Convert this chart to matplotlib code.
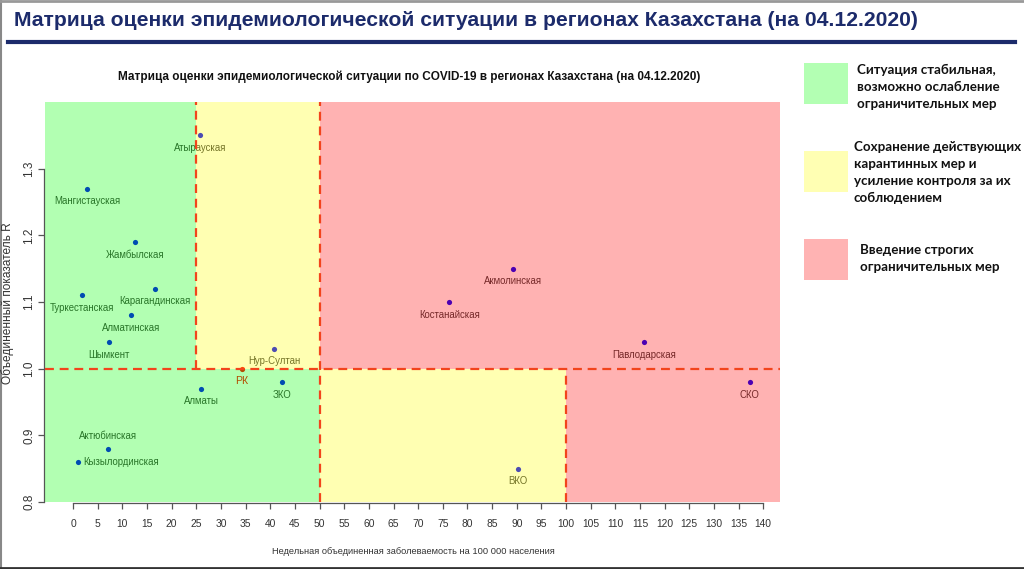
import matplotlib
matplotlib.use("Agg")
import matplotlib.pyplot as plt
from matplotlib.patches import Rectangle
from matplotlib.lines import Line2D

FONT = "Liberation Sans"

# ---- data ----
regions = ["Атырауская", "Мангистауская", "Жамбылская", "Карагандинская", "Туркестанская",
           "Алматинская", "Шымкент", "Нур-Султан", "Алматы", "ЗКО", "Актюбинская",
           "Кызылординская", "Акмолинская", "Костанайская", "Павлодарская", "СКО", "ВКО"]
incidence = [25.8, 2.8, 12.6, 16.6, 1.8, 11.8, 7.3, 40.8, 26.0, 42.4, 7.1,
             1.0, 89.2, 76.3, 115.8, 137.3, 90.3]
r_value = [1.35, 1.27, 1.19, 1.12, 1.11, 1.08, 1.04, 1.03, 0.97, 0.98, 0.88,
           0.86, 1.15, 1.10, 1.04, 0.98, 0.85]
label_pos = ["below"] * 10 + ["above", "right"] + ["below"] * 5
rk_name = "РК"
rk_x, rk_y = 34.3, 1.00
xticks = list(range(0, 145, 5))
yticks = [0.8, 0.9, 1.0, 1.1, 1.2, 1.3]

slide_title = "Матрица оценки эпидемиологической ситуации в регионах Казахстана (на 04.12.2020)"
chart_title = "Матрица оценки эпидемиологической ситуации по COVID-19 в регионах Казахстана (на 04.12.2020)"
xlabel = "Недельная объединенная заболеваемость на 100 000 населения"
ylabel = "Объединенный показатель R"
legend_texts = ["Ситуация стабильная,\nвозможно ослабление\nограничительных мер",
                "Сохранение действующих\nкарантинных мер и\nусиление контроля за их\nсоблюдением",
                "Введение строгих\nограничительных мер"]
legend_colors = ["#b3ffb3", "#ffffb3", "#ffb3b3"]

W, H = 1024, 569
fig = plt.figure(figsize=(W / 100, H / 100), dpi=100)

def fx(px):
    return px / W

def fy(py):
    return 1 - py / H

# slide frame and title
fig.add_artist(Line2D([fx(0.5), fx(0.5)], [0, 1], color="#888888", lw=1.5))
fig.add_artist(Line2D([0, 1], [fy(1), fy(1)], color="#999999", lw=2))
fig.add_artist(Line2D([0, 1], [fy(567.5), fy(567.5)], color="#333333", lw=2))
fig.text(fx(14), fy(21), slide_title, fontsize=15.2, fontweight="bold", color="#1c2b6b",
         family=FONT, ha="left", va="center")
fig.add_artist(Line2D([fx(8), fx(1015)], [fy(42), fy(42)], color="#1c2b6b", lw=3))

# chart axes
L, R_, T, B = 45, 780, 102, 502
ax = fig.add_axes([fx(L), fy(B), (R_ - L) / W, (B - T) / H])
ax.set_xlim(-5.7, 143.4)
ax.set_ylim(0.8, 1.4)

ov = dict(alpha=0.3, lw=0, zorder=3)
ax.add_patch(Rectangle((-5.7, 1.0), 30.7, 0.4, color="#00ff00", **ov))
ax.add_patch(Rectangle((25, 1.0), 25, 0.4, color="#ffff00", **ov))
ax.add_patch(Rectangle((50, 1.0), 93.4, 0.4, color="#ff0000", **ov))
ax.add_patch(Rectangle((-5.7, 0.8), 55.7, 0.2, color="#00ff00", **ov))
ax.add_patch(Rectangle((50, 0.8), 50, 0.2, color="#ffff00", **ov))
ax.add_patch(Rectangle((100, 0.8), 43.4, 0.2, color="#ff0000", **ov))

# points and labels (drawn beneath the translucent zones)
ax.scatter(incidence, r_value, s=14, color="#0000ff", zorder=1, linewidths=0)
ax.scatter([rk_x], [rk_y], s=14, color="#ff0000", zorder=1, linewidths=0)
for name, x, y, pos in zip(regions, incidence, r_value, label_pos):
    if pos == "below":
        off, ha, va = (0, -9), "center", "center"
    elif pos == "above":
        off, ha, va = (0, 9), "center", "center"
    else:
        off, ha, va = (3.5, 0), "left", "center"
    ax.annotate(name, (x, y), xytext=off, textcoords="offset points", ha=ha, va=va,
                fontsize=6.9, family=FONT, color="#3a3a3a", zorder=1)
ax.annotate(rk_name, (rk_x, rk_y), xytext=(0, -9), textcoords="offset points",
            ha="center", va="center", fontsize=7.6, family=FONT, color="#ff0000", zorder=1)

# dashed separators
dl = dict(color="#f2441c", lw=1.6, ls=(0, (4, 2.6)), zorder=4)
ax.plot([-5.7, 143.4], [1.0, 1.0], **dl)
ax.plot([25, 25], [1.0, 1.4], **dl)
ax.plot([50, 50], [0.8, 1.4], **dl)
ax.plot([100, 100], [0.8, 1.0], **dl)

# axes styling
for s in ["top", "right"]:
    ax.spines[s].set_visible(False)
ax.spines["bottom"].set_bounds(0, 140)
ax.spines["left"].set_bounds(0.8, 1.3)
ax.spines["bottom"].set_position(("outward", 1))
ax.spines["left"].set_position(("outward", 1))
for s in ["bottom", "left"]:
    ax.spines[s].set_color("#555555")
    ax.spines[s].set_linewidth(0.9)
ax.set_xticks(xticks)
ax.set_xticklabels([str(t) for t in xticks])
ax.set_yticks(yticks)
ax.set_yticklabels([f"{t:.1f}" for t in yticks], rotation=90, va="center")
ax.tick_params(axis="both", length=4, width=0.9, color="#555555", labelcolor="#333333")
ax.tick_params(axis="x", pad=7, labelsize=7.4)
ax.tick_params(axis="y", pad=2, labelsize=8.5)
for lab in ax.get_xticklabels() + ax.get_yticklabels():
    lab.set_family(FONT)

fig.text(fx(413), fy(552), xlabel, ha="center", va="center", fontsize=6.7, family=FONT,
         color="#333333")
fig.text(fx(8), fy(303), ylabel, ha="center", va="center", rotation=90, fontsize=8.6,
         family=FONT, color="#333333")
fig.text(fx(409), fy(77), chart_title, ha="center", va="center", fontsize=8.45,
         fontweight="bold", family=FONT, color="#111111")

# legend on the right
boxes = [(804, 63, 848, 104), (804, 151, 848, 192), (804, 239, 848, 280)]
text_pos = [(857, 72), (854, 149), (860, 252)]
for (x0, y0, x1, y1), c, t, (tx, ty) in zip(boxes, legend_colors, legend_texts, text_pos):
    fig.add_artist(Rectangle((fx(x0), fy(y1)), (x1 - x0) / W, (y1 - y0) / H, color=c, lw=0))
    fig.text(fx(tx), fy(ty - 8), t, ha="left", va="top", fontsize=9.6, fontweight="bold",
             family="Lato", color="#111111", linespacing=1.48)

fig.savefig("out.png", dpi=100)
